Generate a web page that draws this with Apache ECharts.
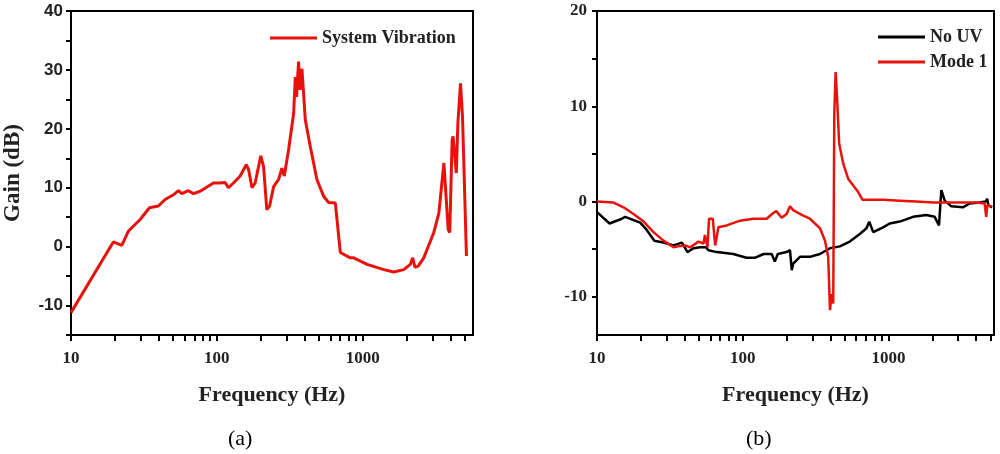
<!DOCTYPE html>
<html>
<head>
<meta charset="utf-8">
<title>Gain vs Frequency</title>
<script src="https://cdn.jsdelivr.net/npm/echarts/dist/echarts.min.js"></script>
<style>
  html, body { margin: 0; padding: 0; background: #fff; }
  #main { width: 1000px; height: 454px; }
</style>
</head>
<body>
<div id="main"></div>
<script>
// (a) system vibration
var freqA = [10, 19.5, 22.3, 24.7, 26.1, 29.8, 34.5, 39.7, 44.2, 50.4, 54.5, 57.5, 63.8, 69, 76.8, 94.8, 105, 114, 120, 130, 144.5, 159, 165, 174, 183, 200, 209, 220, 230, 245, 265, 279, 290, 310, 336, 345, 352, 363, 372, 383, 404, 437, 485, 540, 584, 649, 702, 721, 822, 867, 1072, 1394, 1632, 1911, 2120, 2200, 2280, 2400, 2620, 3070, 3325, 3600, 3855, 3950, 4100, 4160, 4380, 4490, 4680, 4830, 5140];
var gainA = [-11.2, 0.8, 0.2, 2.6, 3.2, 4.6, 6.6, 6.9, 8.0, 8.8, 9.5, 9.0, 9.5, 9.0, 9.4, 10.8, 10.8, 10.9, 10.0, 10.8, 12.0, 13.9, 13.1, 10.0, 10.8, 15.4, 13.6, 6.3, 6.9, 10.2, 11.4, 13.3, 12.0, 16.4, 22.6, 28.8, 25.4, 31.4, 26.6, 30.2, 21.5, 17.0, 11.4, 8.5, 7.5, 7.4, -1.0, -1.3, -1.9, -1.9, -3.0, -3.9, -4.3, -3.9, -3.0, -1.9, -3.5, -3.3, -1.9, 2.4, 5.7, 14.2, 2.9, 2.4, 18.1, 18.7, 12.5, 21.0, 27.7, 22.1, -1.6];

// (b) no UV
var freqNoUV = [10, 12.2, 14.8, 15.6, 19.8, 22, 24.7, 28.6, 33.5, 38.2, 41.8, 45.9, 51, 56, 58.2, 66.4, 86.3, 106, 121, 139, 158, 166, 170, 174, 200, 211, 217, 222, 247, 289, 339, 397, 464, 543, 636, 707, 738, 786, 919, 1020, 1196, 1476, 1820, 2076, 2222, 2306, 2432, 2702, 3247, 3604, 4224, 4645, 4760, 4850, 5150];
var gainNoUV = [-1.1, -2.3, -1.8, -1.6, -2.2, -3.0, -4.1, -4.3, -4.6, -4.3, -5.3, -4.9, -4.8, -4.8, -5.1, -5.3, -5.5, -5.9, -5.9, -5.5, -5.5, -6.3, -6.5, -5.5, -5.3, -5.1, -7.2, -6.5, -5.8, -5.8, -5.5, -4.9, -4.7, -4.2, -3.4, -2.8, -2.1, -3.2, -2.7, -2.3, -2.1, -1.6, -1.4, -1.6, -2.5, 1.2, 0.1, -0.5, -0.6, -0.2, -0.1, 0.0, 0.3, -0.4, -0.6];

// (b) mode 1
var freqMode1 = [10, 13, 15.2, 17.8, 20.9, 24.4, 28.6, 33.5, 36, 40.3, 43.6, 49.7, 53.8, 55, 57.3, 58.7, 62.3, 64.7, 68.1, 77.6, 95.9, 118, 146, 162, 170, 185, 200, 211, 222, 254, 289, 339, 367, 386, 397, 407, 418, 425, 434, 445, 459, 489, 529, 573, 620, 663, 707, 919, 1196, 1556, 2024, 2632, 3420, 4009, 4570, 4690, 4760, 5150];
var gainMode1 = [0.0, -0.1, -0.6, -1.3, -2.1, -3.2, -4.1, -4.8, -4.7, -4.6, -4.8, -4.2, -4.4, -3.5, -4.8, -1.8, -1.8, -4.6, -2.7, -2.5, -2.0, -1.8, -1.8, -1.2, -1.0, -1.7, -1.3, -0.5, -0.9, -1.4, -1.8, -2.8, -4.1, -5.8, -11.4, -9.7, -10.7, 9.2, 13.6, 10.6, 6.1, 4.0, 2.4, 1.7, 1.0, 0.2, 0.2, 0.2, 0.1, 0.0, -0.1, -0.1, -0.1, -0.1, -0.2, -1.6, -0.4, -0.5];

// tick labels / tick positions
var freqLabels = [10, 100, 1000];
var freqTicks = [10, 20, 30, 40, 50, 60, 70, 80, 90, 100, 200, 300, 400, 500, 600, 700, 800, 900, 1000, 2000, 3000, 4000, 5000];
var gainLabelsA = [-10, 0, 10, 20, 30, 40];
var gainTicksA = [-15, -10, -5, 0, 5, 10, 15, 20, 25, 30, 35, 40];
var gainLabelsB = [-10, 0, 10, 20];
var gainTicksB = [-10, -5, 0, 5, 10, 15, 20];

function zip(xs, ys) {
    return xs.map(function (x, i) { return [x, ys[i]]; });
}

var serif = '"Liberation Serif", "Times New Roman", serif';
var sans = '"Liberation Sans", Arial, sans-serif';

function xAxisFor(idx, max) {
    return {
        type: 'log', gridIndex: idx, min: 10, max: max, logBase: 10,
        name: 'Frequency (Hz)', nameLocation: 'middle', nameGap: 49,
        nameTextStyle: { fontFamily: serif, fontWeight: 'bold', fontSize: 22, color: '#222' },
        axisLine: { show: true, onZero: false, lineStyle: { color: '#000', width: 2 } },
        axisTick: { show: true, length: 6, lineStyle: { color: '#000', width: 2 }, customValues: freqTicks },
        axisLabel: {
            customValues: freqLabels, fontFamily: serif, fontWeight: 'bold', fontSize: 17, color: '#222', margin: 15,
            formatter: function (v) { return String(Math.round(v)); }
        },
        splitLine: { show: false }
    };
}

var myChart = echarts.init(document.getElementById('main'));
var option = {
    animation: false,
    backgroundColor: '#fff',
    grid: [
        { left: 71, top: 11, width: 402, height: 324, show: true, borderColor: '#000', borderWidth: 2 },
        { left: 597, top: 11, width: 397, height: 324, show: true, borderColor: '#000', borderWidth: 2 }
    ],
    xAxis: [xAxisFor(0, 5700), xAxisFor(1, 5300)],
    yAxis: [
        {
            type: 'value', gridIndex: 0, min: -15, max: 40,
            name: 'Gain (dB)', nameLocation: 'middle', nameGap: 46,
            nameTextStyle: { fontFamily: serif, fontWeight: 'bold', fontSize: 23, color: '#222' },
            axisLine: { show: true, onZero: false, lineStyle: { color: '#000', width: 2 } },
            axisTick: { show: true, length: 5, lineStyle: { color: '#000', width: 2 }, customValues: gainTicksA },
            axisLabel: { customValues: gainLabelsA, fontFamily: sans, fontWeight: 'bold', fontSize: 17, color: '#222', margin: 8 },
            splitLine: { show: false }
        },
        {
            type: 'value', gridIndex: 1, min: -14, max: 20,
            axisLine: { show: true, onZero: false, lineStyle: { color: '#000', width: 2 } },
            axisTick: { show: true, length: 5, lineStyle: { color: '#000', width: 2 }, customValues: gainTicksB },
            axisLabel: { customValues: gainLabelsB, fontFamily: serif, fontWeight: 'bold', fontSize: 17, color: '#222', margin: 10 },
            splitLine: { show: false }
        }
    ],
    legend: [
        {
            data: ['System Vibration'], left: 265, top: 24,
            icon: 'rect', itemWidth: 47, itemHeight: 3, itemGap: 6,
            textStyle: { fontFamily: serif, fontWeight: 'bold', fontSize: 18, color: '#222' }
        },
        {
            data: ['No UV', 'Mode 1'], left: 873, top: 23, orient: 'vertical',
            icon: 'rect', itemWidth: 47, itemHeight: 3, itemGap: 7,
            textStyle: { fontFamily: serif, fontWeight: 'bold', fontSize: 18, color: '#222' }
        }
    ],
    graphic: [
        { type: 'text', left: 228, top: 428, style: { text: '(a)', font: '22px ' + serif, fill: '#000' } },
        { type: 'text', left: 746, top: 428, style: { text: '(b)', font: '22px ' + serif, fill: '#000' } }
    ],
    series: [
        {
            name: 'System Vibration', type: 'line', xAxisIndex: 0, yAxisIndex: 0,
            data: zip(freqA, gainA), showSymbol: false, smooth: false,
            lineStyle: { color: '#e8120c', width: 3 }, itemStyle: { color: '#e8120c' }
        },
        {
            name: 'No UV', type: 'line', xAxisIndex: 1, yAxisIndex: 1,
            data: zip(freqNoUV, gainNoUV), showSymbol: false,
            lineStyle: { color: '#000', width: 2.5 }, itemStyle: { color: '#000' }
        },
        {
            name: 'Mode 1', type: 'line', xAxisIndex: 1, yAxisIndex: 1,
            data: zip(freqMode1, gainMode1), showSymbol: false,
            lineStyle: { color: '#e8120c', width: 2.5 }, itemStyle: { color: '#e8120c' }
        }
    ]
};
myChart.setOption(option);
</script>
</body>
</html>
